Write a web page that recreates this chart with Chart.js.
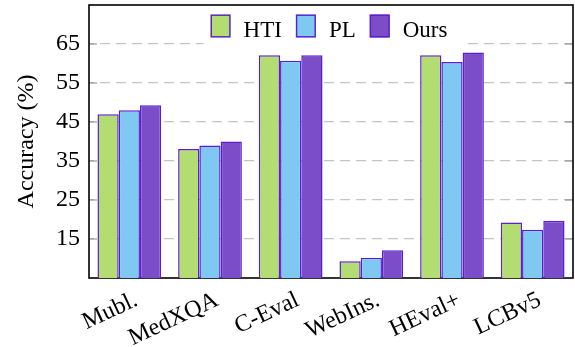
<!DOCTYPE html>
<html>
<head>
<meta charset="utf-8">
<script src="https://cdn.jsdelivr.net/npm/chart.js@4.4.1/dist/chart.umd.min.js"></script>
<style>
  html, body { margin: 0; padding: 0; background: #ffffff; }
  #wrap { width: 575px; height: 347px; }
</style>
</head>
<body>
<div id="wrap"><canvas id="chart" width="575" height="347"></canvas></div>
<script>
// Benchmarks and accuracy (%) per method
const categories = ['Mubl.', 'MedXQA', 'C-Eval', 'WebIns.', 'HEval+', 'LCBv5'];
const seriesNames = ['HTI', 'PL', 'Ours'];
const htiValues  = [47.0, 38.1, 62.1,  9.3, 62.1, 19.2];
const plValues   = [48.0, 39.0, 60.7, 10.2, 60.4, 17.4];
const oursValues = [49.3, 40.0, 62.1, 12.1, 62.8, 19.7];
const yTicks = [15, 25, 35, 45, 55, 65];
const yRange = [5, 75];

const FONT = "'Liberation Serif', 'Times New Roman', serif";
Chart.defaults.font.family = FONT;
Chart.defaults.font.size = 23;
Chart.defaults.color = '#000000';

const fills = ['#b3dd72', '#7fc8f1', '#7b4dc8'];
const edge = '#5a1fd0';

// Frame around the plot area plus inward tick marks on both sides
const framePlugin = {
  id: 'frame',
  beforeDatasetsDraw(chart) {
    const { ctx, chartArea: a, scales: { y } } = chart;
    ctx.save();
    ctx.strokeStyle = '#8a8a8a';
    ctx.lineWidth = 1.2;
    yTicks.forEach(v => {
      const py = y.getPixelForValue(v);
      ctx.beginPath();
      ctx.moveTo(a.left, py); ctx.lineTo(a.left + 8, py);
      ctx.moveTo(a.right - 8, py); ctx.lineTo(a.right, py);
      ctx.stroke();
    });
    ctx.strokeStyle = '#000000';
    ctx.lineWidth = 1.6;
    ctx.strokeRect(a.left, a.top, a.right - a.left, a.bottom - a.top);
    ctx.restore();
  }
};

// Legend drawn inside the plot area, over a white panel
const insideLegend = {
  id: 'insideLegend',
  afterDraw(chart) {
    const { ctx, chartArea: a } = chart;
    ctx.save();
    ctx.font = '23px ' + FONT;
    const boxW = 20, boxH = 23, gapText = 13, gapItem = 14;
    const widths = seriesNames.map(n => ctx.measureText(n).width);
    let total = 0;
    widths.forEach((w, i) => { total += boxW + gapText + w + (i < widths.length - 1 ? gapItem : 0); });
    const cx = (a.left + a.right) / 2;
    let x = cx - total / 2 - 2;
    const boxTop = a.top + 9.5;
    ctx.fillStyle = '#ffffff';
    ctx.fillRect(x - 7, a.top + 1, total + 22, 44);
    ctx.textBaseline = 'alphabetic';
    ctx.textAlign = 'left';
    chart.data.datasets.forEach((ds, i) => {
      ctx.fillStyle = ds.backgroundColor;
      ctx.fillRect(x, boxTop, boxW, boxH);
      ctx.strokeStyle = edge;
      ctx.lineWidth = 1.4;
      ctx.strokeRect(x + 0.7, boxTop + 0.7, boxW - 1.4, boxH - 1.4);
      ctx.fillStyle = '#000000';
      ctx.fillText(ds.label, x + boxW + gapText, boxTop + 22.5);
      x += boxW + gapText + widths[i] + gapItem;
    });
    ctx.restore();
  }
};

const mk = (i, values) => ({
  label: seriesNames[i],
  data: values,
  backgroundColor: fills[i],
  borderColor: edge,
  borderWidth: 1.5,
  borderSkipped: false,
  categoryPercentage: 0.79,
  barPercentage: 1.0
});

new Chart(document.getElementById('chart'), {
  type: 'bar',
  data: {
    labels: categories,
    datasets: [mk(0, htiValues), mk(1, plValues), mk(2, oursValues)]
  },
  options: {
    responsive: false,
    animation: false,
    layout: { padding: { top: 5, right: 2, left: 0, bottom: 0 } },
    plugins: { legend: { display: false }, tooltip: { enabled: false } },
    scales: {
      x: {
        grid: { display: false, drawTicks: false },
        border: { display: false },
        ticks: {
          color: '#000000',
          font: { family: FONT, size: 24 },
          minRotation: 25,
          maxRotation: 25,
          padding: 8,
          labelOffset: 7,
          autoSkip: false
        },
        afterFit(scale) {
          scale.height = 69;
          scale.paddingLeft = 0; scale.paddingRight = 0;
          scale.paddingTop = 0; scale.paddingBottom = 0;
        }
      },
      y: {
        min: yRange[0],
        max: yRange[1],
        afterBuildTicks(scale) { scale.ticks = yTicks.map(v => ({ value: v })); },
        grid: { color: '#c4c4c4', lineWidth: 1.2, drawTicks: false },
        border: { display: false, dash: [10, 6], dashOffset: -11 },
        ticks: {
          color: '#000000',
          font: { family: FONT, size: 24 },
          padding: 9
        },
        title: {
          display: true,
          text: 'Accuracy (%)',
          color: '#000000',
          font: { family: FONT, size: 24 },
          padding: { top: 12, bottom: 0 }
        },
        afterFit(scale) {
          scale.width = 89;
          scale.paddingTop = 0; scale.paddingBottom = 0;
          scale.paddingLeft = 0; scale.paddingRight = 0;
        }
      }
    }
  },
  plugins: [framePlugin, insideLegend]
});
</script>
</body>
</html>
